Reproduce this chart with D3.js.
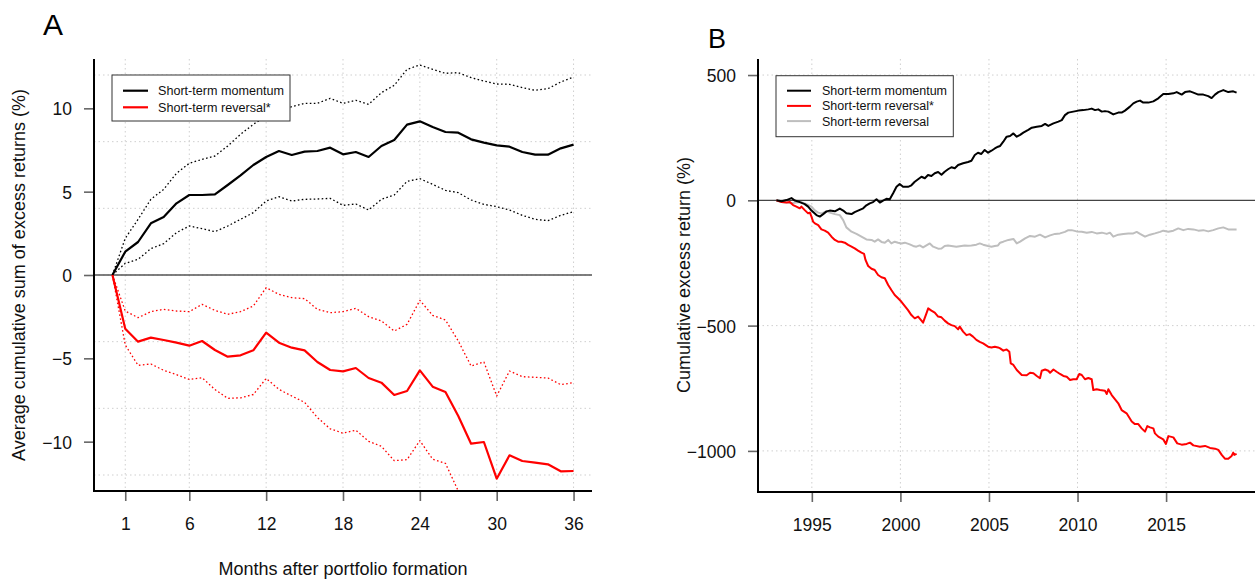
<!DOCTYPE html>
<html><head><meta charset="utf-8">
<script src="https://cdn.jsdelivr.net/npm/d3@7"></script>
<style>
body{margin:0;background:#fff;}
svg{display:block;font-family:"Liberation Sans",Arial,Helvetica,sans-serif;}
</style>
</head><body>
<svg id="chart" width="1256" height="580"></svg>
<script>
// ---------- Panel A data ----------
const monthsA = [0,1,2,3,4,5,6,7,8,9,10,11,12,13,14,15,16,17,18,19,20,21,22,23,24,25,26,27,28,29,30,31,32,33,34,35,36];
const monthTicksA = [1,6,12,18,24,30,36];
const valueTicksA = [-10,-5,0,5,10];
const gridYA = [-12,-8,-4,0,4,8,12];
const momMean  = [0,1.40,1.98,3.10,3.48,4.30,4.80,4.80,4.84,5.40,5.98,6.60,7.08,7.44,7.20,7.40,7.44,7.64,7.24,7.38,7.08,7.74,8.10,9.02,9.22,8.88,8.58,8.54,8.14,7.94,7.78,7.70,7.38,7.22,7.22,7.60,7.82];
const momUpper = [0,2.2,3.34,4.54,5.14,6.1,6.7,6.94,7.14,7.74,8.44,9.04,9.54,9.78,10.1,10.3,10.3,10.6,10.3,10.48,10.24,10.94,11.38,12.34,12.6,12.34,12.1,12.14,11.84,11.64,11.46,11.44,11.24,11.08,11.18,11.58,11.88];
const momLower = [0,0.7,0.94,1.58,1.88,2.54,2.94,2.78,2.6,2.94,3.34,3.74,4.44,4.7,4.44,4.54,4.56,4.6,4.18,4.26,3.9,4.54,4.8,5.62,5.78,5.44,5.08,4.94,4.5,4.24,4.1,3.9,3.58,3.34,3.26,3.58,3.8];
const revMean  = [0,-3.22,-4.0,-3.76,-3.9,-4.06,-4.24,-3.96,-4.5,-4.9,-4.82,-4.52,-3.46,-4.06,-4.36,-4.52,-5.22,-5.7,-5.78,-5.58,-6.18,-6.46,-7.2,-6.96,-5.72,-6.7,-7.02,-8.46,-10.12,-10.02,-12.22,-10.82,-11.16,-11.26,-11.36,-11.78,-11.76];
const revUpper = [0,-2.16,-2.56,-2.2,-2.06,-2.16,-2.2,-1.76,-2.12,-2.36,-2.2,-1.86,-0.76,-1.16,-1.36,-1.42,-2.06,-2.26,-2.2,-2.0,-2.5,-2.76,-3.36,-2.96,-1.52,-2.42,-2.7,-3.96,-5.46,-5.22,-7.26,-5.76,-6.1,-6.14,-6.18,-6.58,-6.46];
const revLower = [0,-4.2,-5.42,-5.34,-5.72,-5.98,-6.27,-6.16,-6.87,-7.4,-7.37,-7.17,-6.21,-6.86,-7.26,-7.64,-8.55,-9.23,-9.49,-9.31,-9.98,-10.28,-11.14,-11.08,-9.94,-11.05,-11.3,-12.96,-14.78,-14.82,-17.18,-15.88,-16.22,-16.38,-16.54,-16.98,-17.06];
const legendA = ["Short-term momentum","Short-term reversal*"];

// ---------- Panel B data ([year, cumulative excess return %]) ----------
const yearTicksB = [1995,2000,2005,2010,2015];
const valueTicksB = [-1000,-500,0,500];
const momB = [[1993.00,0],[1993.29,-4],[1993.57,1],[1993.85,9],[1994.04,-1],[1994.32,-7],[1994.60,-15],[1994.79,-25],[1994.98,-41],[1995.26,-59],[1995.45,-65],[1995.64,-55],[1995.83,-44],[1996.01,-41],[1996.30,-44],[1996.58,-33],[1996.77,-41],[1996.95,-52],[1997.24,-55],[1997.42,-47],[1997.61,-41],[1997.90,-32],[1998.08,-20],[1998.27,-12],[1998.46,-7],[1998.65,4],[1998.84,-9],[1999.02,-1],[1999.21,6],[1999.40,4],[1999.59,28],[1999.78,54],[1999.96,65],[2000.15,54],[2000.43,54],[2000.62,60],[2000.81,74],[2001.00,84],[2001.19,94],[2001.38,88],[2001.56,101],[2001.75,97],[2001.94,108],[2002.13,113],[2002.32,102],[2002.50,114],[2002.69,124],[2002.88,132],[2003.07,128],[2003.26,141],[2003.54,148],[2003.82,153],[2004.01,158],[2004.20,181],[2004.38,190],[2004.57,185],[2004.76,201],[2004.95,190],[2005.14,198],[2005.33,207],[2005.51,214],[2005.63,217],[2005.81,234],[2006.00,254],[2006.19,257],[2006.38,267],[2006.57,254],[2006.76,261],[2006.94,270],[2007.22,281],[2007.42,290],[2007.70,294],[2007.98,297],[2008.17,305],[2008.35,297],[2008.64,307],[2008.92,314],[2009.11,320],[2009.29,340],[2009.48,350],[2009.76,354],[2010.05,358],[2010.33,360],[2010.61,363],[2010.80,366],[2010.99,360],[2011.17,363],[2011.37,354],[2011.55,356],[2011.74,354],[2012.02,343],[2012.30,350],[2012.49,350],[2012.68,358],[2012.96,374],[2013.15,387],[2013.34,394],[2013.53,398],[2013.71,390],[2014.00,390],[2014.28,395],[2014.56,407],[2014.84,424],[2015.13,424],[2015.41,427],[2015.60,432],[2015.88,422],[2016.07,432],[2016.35,435],[2016.54,430],[2016.82,422],[2017.10,422],[2017.38,416],[2017.57,408],[2017.76,422],[2017.95,432],[2018.23,440],[2018.51,432],[2018.79,435],[2018.98,430]];
const revStarB = [[1993.00,0],[1993.29,-7],[1993.57,-9],[1993.76,-7],[1993.94,-19],[1994.13,-25],[1994.32,-32],[1994.41,-25],[1994.60,-39],[1994.79,-52],[1994.89,-49],[1994.98,-65],[1995.07,-85],[1995.17,-92],[1995.36,-99],[1995.54,-116],[1995.73,-121],[1995.92,-129],[1996.11,-145],[1996.30,-158],[1996.48,-165],[1996.67,-165],[1996.86,-169],[1997.05,-178],[1997.24,-185],[1997.42,-192],[1997.61,-201],[1997.80,-209],[1997.95,-214],[1998.03,-238],[1998.18,-262],[1998.37,-273],[1998.55,-278],[1998.74,-298],[1998.93,-307],[1999.12,-311],[1999.31,-338],[1999.49,-358],[1999.68,-378],[1999.87,-391],[2000.06,-405],[2000.25,-422],[2000.43,-438],[2000.62,-458],[2000.81,-471],[2001.00,-464],[2001.19,-480],[2001.28,-488],[2001.47,-451],[2001.57,-431],[2001.75,-440],[2001.94,-448],[2002.13,-464],[2002.32,-467],[2002.50,-480],[2002.69,-491],[2002.88,-498],[2003.07,-502],[2003.26,-515],[2003.35,-504],[2003.54,-524],[2003.73,-538],[2003.91,-534],[2004.10,-544],[2004.29,-557],[2004.48,-565],[2004.67,-571],[2004.95,-584],[2005.14,-587],[2005.33,-584],[2005.51,-587],[2005.63,-591],[2005.81,-600],[2006.00,-595],[2006.15,-604],[2006.23,-651],[2006.38,-657],[2006.57,-677],[2006.85,-697],[2007.13,-698],[2007.32,-688],[2007.51,-690],[2007.70,-701],[2007.88,-710],[2007.98,-680],[2008.17,-675],[2008.35,-680],[2008.45,-688],[2008.64,-675],[2008.82,-684],[2009.01,-693],[2009.20,-701],[2009.39,-704],[2009.58,-717],[2009.76,-714],[2009.95,-714],[2010.10,-693],[2010.24,-697],[2010.42,-714],[2010.61,-709],[2010.80,-714],[2010.89,-757],[2011.08,-754],[2011.27,-757],[2011.55,-760],[2011.65,-773],[2011.74,-754],[2011.93,-777],[2012.12,-794],[2012.30,-810],[2012.49,-837],[2012.77,-850],[2013.06,-883],[2013.24,-893],[2013.43,-893],[2013.62,-910],[2013.81,-923],[2013.94,-901],[2014.09,-906],[2014.28,-910],[2014.37,-930],[2014.56,-943],[2014.84,-954],[2014.99,-972],[2015.13,-941],[2015.41,-946],[2015.63,-970],[2015.88,-975],[2016.16,-972],[2016.35,-967],[2016.54,-978],[2016.91,-983],[2017.20,-980],[2017.48,-988],[2017.76,-991],[2017.95,-996],[2018.14,-1016],[2018.32,-1031],[2018.51,-1031],[2018.70,-1020],[2018.79,-1007],[2018.85,-1016],[2018.98,-1012]];
const revB = [[1993.00,0],[1993.29,-7],[1993.57,-9],[1993.85,-12],[1994.13,-9],[1994.41,-7],[1994.70,-15],[1994.98,-25],[1995.17,-40],[1995.36,-49],[1995.54,-52],[1995.83,-44],[1996.01,-49],[1996.30,-55],[1996.58,-59],[1996.77,-79],[1996.95,-108],[1997.24,-125],[1997.52,-134],[1997.80,-145],[1998.08,-156],[1998.37,-158],[1998.55,-165],[1998.74,-156],[1998.93,-166],[1999.12,-169],[1999.31,-158],[1999.49,-172],[1999.68,-165],[1999.87,-169],[2000.06,-172],[2000.25,-169],[2000.53,-176],[2000.72,-182],[2000.90,-185],[2001.09,-180],[2001.28,-188],[2001.47,-180],[2001.66,-172],[2001.85,-185],[2002.13,-193],[2002.32,-192],[2002.50,-182],[2002.69,-180],[2002.88,-182],[2003.16,-185],[2003.44,-182],[2003.63,-180],[2003.82,-181],[2004.01,-180],[2004.29,-177],[2004.48,-172],[2004.67,-177],[2004.95,-182],[2005.14,-185],[2005.33,-182],[2005.51,-180],[2005.63,-169],[2005.81,-165],[2006.10,-158],[2006.38,-154],[2006.57,-172],[2006.76,-165],[2007.04,-152],[2007.32,-142],[2007.60,-145],[2007.88,-137],[2008.17,-148],[2008.45,-140],[2008.73,-134],[2009.01,-132],[2009.29,-126],[2009.48,-119],[2009.67,-119],[2009.95,-124],[2010.24,-125],[2010.52,-129],[2010.80,-126],[2011.08,-132],[2011.37,-129],[2011.65,-134],[2011.83,-129],[2012.02,-145],[2012.30,-137],[2012.59,-134],[2012.87,-132],[2013.15,-132],[2013.34,-126],[2013.53,-134],[2013.81,-145],[2014.09,-137],[2014.37,-132],[2014.66,-126],[2014.84,-121],[2015.13,-125],[2015.41,-121],[2015.69,-112],[2015.97,-119],[2016.25,-114],[2016.54,-116],[2016.82,-121],[2017.10,-119],[2017.38,-124],[2017.66,-119],[2017.95,-112],[2018.23,-108],[2018.51,-116],[2018.79,-116],[2018.98,-116]];
const legendB = ["Short-term momentum","Short-term reversal*","Short-term reversal"];

// ---------- drawing ----------
const svg = d3.select("#chart");
const RED = "#ff0000", GRAY = "#bebebe", GRID = "#cfcfcf";
const TICKFONT = "17.5px", TITLEFONT = "18px";

function padDomain(lo, hi){ const p=(hi-lo)*0.04; return [lo-p, hi+p]; }

function frame(g, x, y, xTicks, yTicks, xGrid, yGrid, L, R, T, B, id){
  // grid
  g.append("g").selectAll("line").data(xGrid).join("line")
    .attr("x1",d=>x(d)).attr("x2",d=>x(d)).attr("y1",T).attr("y2",B)
    .attr("stroke",GRID).attr("stroke-width",1).attr("stroke-dasharray","1.5,3");
  g.append("g").selectAll("line").data(yGrid).join("line")
    .attr("x1",L).attr("x2",R).attr("y1",d=>y(d)).attr("y2",d=>y(d))
    .attr("stroke",GRID).attr("stroke-width",1).attr("stroke-dasharray","1.5,3");
  // axes ticks
  const ay = g.append("g").attr("transform",`translate(${L},0)`)
    .call(d3.axisLeft(y).tickValues(yTicks).tickSize(10).tickPadding(12).tickFormat(d3.format("d")));
  const ax = g.append("g").attr("transform",`translate(0,${B})`)
    .call(d3.axisBottom(x).tickValues(xTicks).tickSize(10).tickPadding(17).tickFormat(d3.format("d")));
  [ax,ay].forEach(a=>{
    a.select(".domain").remove();
    a.selectAll(".tick line").attr("stroke","#666").attr("stroke-width",1.6);
    a.selectAll(".tick text").attr("fill","#111").style("font-size",TICKFONT)
      .style("font-family",'"Liberation Sans",Arial,sans-serif');
  });
  ay.selectAll(".tick text").attr("dy","0.37em");
  // clip
  svg.append("defs").append("clipPath").attr("id",id)
    .append("rect").attr("x",L).attr("y",T).attr("width",R-L).attr("height",B-T);
}

function axisBox(g,L,R,T,B){
  g.append("path").attr("d",`M${L},${T}V${B}H${R}`)
    .attr("fill","none").attr("stroke","#000").attr("stroke-width",2);
}

// ===== Panel A =====
{
  const L=94,R=592,T=59,B=491;
  const x = d3.scaleLinear().domain(padDomain(0,36)).range([L,R]);
  const y = d3.scaleLinear().domain(padDomain(-12,12)).range([B,T]);
  const g = svg.append("g");
  frame(g,x,y,monthTicksA,valueTicksA,monthTicksA,gridYA,L,R,T,B,"clipA");
  g.append("line").attr("x1",L).attr("x2",R).attr("y1",y(0)).attr("y2",y(0))
    .attr("stroke","#555").attr("stroke-width",1.5);
  const line = d3.line().x((d,i)=>x(monthsA[i])).y(d=>y(d));
  const pg = g.append("g").attr("clip-path","url(#clipA)");
  const series = [
    {v:momUpper,c:"#000",w:1.3,dash:"1.6,2.4"},
    {v:momLower,c:"#000",w:1.3,dash:"1.6,2.4"},
    {v:revUpper,c:RED,w:1.3,dash:"1.6,2.4"},
    {v:revLower,c:RED,w:1.3,dash:"1.6,2.4"},
    {v:momMean,c:"#000",w:2.2,dash:null},
    {v:revMean,c:RED,w:2.2,dash:null}
  ];
  series.forEach(s=>{
    pg.append("path").datum(s.v).attr("d",line).attr("fill","none")
      .attr("stroke",s.c).attr("stroke-width",s.w).attr("stroke-linejoin","round")
      .attr("stroke-dasharray",s.dash);
  });
  axisBox(g,L,R,T,B);
  // legend
  const lg = g.append("g");
  lg.append("rect").attr("x",112).attr("y",75).attr("width",178).attr("height",46)
    .attr("fill","#fff").attr("stroke","#333").attr("stroke-width",1);
  const colsA=["#000",RED];
  legendA.forEach((t,i)=>{
    const yy = 90.7 + i*16.6;
    lg.append("line").attr("x1",123).attr("x2",148).attr("y1",yy).attr("y2",yy)
      .attr("stroke",colsA[i]).attr("stroke-width",2.2);
    lg.append("text").attr("x",158).attr("y",yy+4.5).text(t)
      .style("font-size","12.6px").attr("fill","#111");
  });
  // titles
  g.append("text").attr("x",343).attr("y",575).attr("text-anchor","middle")
    .style("font-size",TITLEFONT).attr("fill","#111").text("Months after portfolio formation");
  g.append("text").attr("transform","translate(25,275) rotate(-90)").attr("text-anchor","middle")
    .style("font-size",TITLEFONT).attr("fill","#111").text("Average cumulative sum of excess returns (%)");
  g.append("text").attr("x",43).attr("y",35).style("font-size","30px").attr("fill","#000").text("A");
}

// ===== Panel B =====
{
  const L=758,R=1255,T=59,B=492;
  const x = d3.scaleLinear().domain(padDomain(1993.0,2018.98)).range([L,R]);
  const y = d3.scaleLinear().domain(padDomain(-1100,500)).range([B,T]);
  const g = svg.append("g");
  frame(g,x,y,yearTicksB,valueTicksB,yearTicksB,[-1000,-500,500],L,R,T,B,"clipB");
  g.append("line").attr("x1",L).attr("x2",R).attr("y1",y(0)).attr("y2",y(0))
    .attr("stroke","#444").attr("stroke-width",1.3);
  const line = d3.line().x(d=>x(d[0])).y(d=>y(d[1]));
  const pg = g.append("g").attr("clip-path","url(#clipB)");
  [{d:revB,c:GRAY},{d:revStarB,c:RED},{d:momB,c:"#000"}].forEach(s=>{
    pg.append("path").datum(s.d).attr("d",line).attr("fill","none")
      .attr("stroke",s.c).attr("stroke-width",2).attr("stroke-linejoin","round");
  });
  axisBox(g,L,R,T,B);
  const lg = g.append("g");
  lg.append("rect").attr("x",776).attr("y",75.7).attr("width",177.3).attr("height",61)
    .attr("fill","#fff").attr("stroke","#333").attr("stroke-width",1);
  const colsB=["#000",RED,GRAY];
  legendB.forEach((t,i)=>{
    const yy = 90.7 + i*15.2;
    lg.append("line").attr("x1",787).attr("x2",811).attr("y1",yy).attr("y2",yy)
      .attr("stroke",colsB[i]).attr("stroke-width",2);
    lg.append("text").attr("x",822).attr("y",yy+4.5).text(t)
      .style("font-size","12.5px").attr("fill","#111");
  });
  g.append("text").attr("transform","translate(690,275) rotate(-90)").attr("text-anchor","middle")
    .style("font-size",TITLEFONT).attr("fill","#111").text("Cumulative excess return (%)");
  g.append("text").attr("x",708).attr("y",48).style("font-size","27px").attr("fill","#000").text("B");
}
</script>
</body></html>
